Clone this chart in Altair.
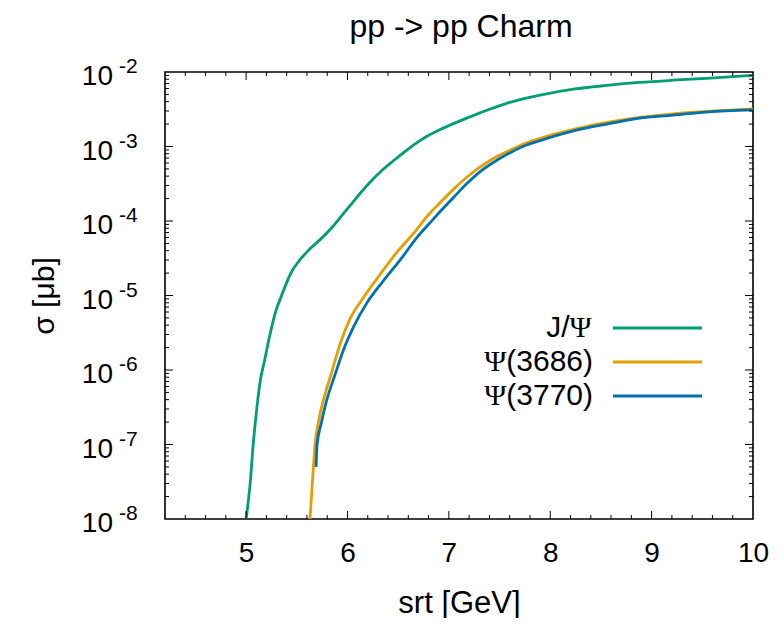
import altair as alt
import pandas as pd

# ---------------- data ----------------
series_names = ["J/Ψ", "Ψ(3686)", "Ψ(3770)"]
series_colors = ["#009e73", "#e69f00", "#0072b2"]

jpsi_srt = [5.00, 5.04, 5.07, 5.10, 5.14, 5.18, 5.22, 5.29, 5.35, 5.45, 5.53, 5.62,
            5.74, 5.84, 5.96, 6.06, 6.15, 6.25, 6.35, 6.45, 6.55, 6.65, 6.78, 6.91,
            7.11, 7.24, 7.40, 7.57, 7.90, 8.23, 8.56, 8.88, 9.21, 9.54, 10.0]
jpsi_sigma = [1.0e-8, 3.0e-8, 1.0e-7, 2.6e-7, 7.2e-7, 1.3e-6, 2.4e-6, 6.0e-6, 1.0e-5,
              2.1e-5, 3.0e-5, 4.1e-5, 5.8e-5, 8.0e-5, 1.26e-4, 1.84e-4, 2.57e-4, 3.63e-4,
              4.9e-4, 6.38e-4, 8.22e-4, 1.047e-3, 1.365e-3, 1.68e-3, 2.21e-3, 2.6e-3,
              3.16e-3, 3.8e-3, 4.9e-3, 5.89e-3, 6.61e-3, 7.24e-3, 7.76e-3, 8.22e-3, 9.0e-3]

psi3686_srt = [5.63, 5.66, 5.68, 5.71, 5.78, 5.84, 5.93, 6.02, 6.16, 6.32, 6.48, 6.65,
               6.81, 6.91, 7.05, 7.18, 7.30, 7.43, 7.57, 7.73, 7.90, 8.23, 8.56, 8.88,
               9.21, 9.54, 10.0]
psi3686_sigma = [1.0e-8, 4.1e-8, 1.0e-7, 1.9e-7, 4.8e-7, 8.9e-7, 2.3e-6, 4.7e-6, 9.5e-6,
                 1.9e-5, 3.7e-5, 6.8e-5, 1.26e-4, 1.74e-4, 2.7e-4, 3.9e-4, 5.2e-4,
                 6.8e-4, 8.5e-4, 1.07e-3, 1.29e-3, 1.7e-3, 2.1e-3, 2.45e-3, 2.75e-3,
                 2.95e-3, 3.2e-3]

psi3770_srt = [5.69, 5.70, 5.74, 5.79, 5.88, 5.96, 6.06, 6.19, 6.35, 6.52, 6.68, 6.85,
               6.91, 7.05, 7.18, 7.30, 7.43, 7.57, 7.73, 7.90, 8.23, 8.56, 8.88, 9.21,
               9.54, 10.0]
psi3770_sigma = [5.0e-8, 1.0e-7, 1.9e-7, 3.7e-7, 8.9e-7, 1.86e-6, 3.8e-6, 7.9e-6, 1.55e-5,
                 3.0e-5, 5.9e-5, 1.07e-4, 1.32e-4, 2.1e-4, 3.2e-4, 4.5e-4, 6.0e-4,
                 7.8e-4, 1.0e-3, 1.2e-3, 1.62e-3, 2.0e-3, 2.4e-3, 2.63e-3, 2.9e-3, 3.1e-3]

x_tick_labels = [5, 6, 7, 8, 9, 10]
y_decades = [-8, -7, -6, -5, -4, -3, -2]

title_text = "pp -> pp Charm"
x_title = "srt [GeV]"
y_title = "σ [μb]"

# ---------------- layout / style ----------------
W, H = 588, 447
FONT = "Liberation Sans"
SERIF = "Liberation Serif"
LW = 2.8
MAJ, MIN = 8, 4

xscale = alt.Scale(domain=[4.2, 10], nice=False, zero=False)
yscale = alt.Scale(type="log", domain=[1e-8, 1e-2], nice=False)
cscale = alt.Scale(domain=series_names, range=series_colors)

x_axis = alt.Axis(values=x_tick_labels, ticks=False, domain=False, grid=False,
                  labelFontSize=28, labelPadding=34, labelBaseline="middle",
                  labelFlush=False, labelColor="black",
                  title=x_title, titleFontSize=31, titleFontWeight="normal",
                  titleY=84, titleBaseline="middle", titleColor="black")
y_axis = alt.Axis(labels=False, ticks=False, domain=False, grid=False,
                  title=y_title, titleFontSize=30, titleFontWeight="normal",
                  titleX=-121, titleY=H / 2, titleAngle=-90,
                  titleAlign="center", titleBaseline="middle", titleColor="black")

rows = []
for name, xs, ys in [(series_names[0], jpsi_srt, jpsi_sigma),
                     (series_names[1], psi3686_srt, psi3686_sigma),
                     (series_names[2], psi3770_srt, psi3770_sigma)]:
    for a, b in zip(xs, ys):
        rows.append({"series": name, "srt": a, "sigma": b})
curve_df = pd.DataFrame(rows)

curves = alt.Chart(curve_df).mark_line(strokeWidth=LW, clip=True, interpolate="monotone").encode(
    x=alt.X("srt:Q", scale=xscale, axis=x_axis),
    y=alt.Y("sigma:Q", scale=yscale, axis=y_axis),
    color=alt.Color("series:N", scale=cscale, legend=None),
)

# tick positions
x_major = [float(v) for v in x_tick_labels[:-1]]
x_minor = [round(4.2 + 0.2 * i, 1) for i in range(1, 29)]
x_minor = [v for v in x_minor if abs(v - round(v)) > 1e-6]
y_major = [10.0 ** d for d in y_decades[1:-1]]
y_minor = [m * 10.0 ** d for d in y_decades[:-1] for m in range(2, 10)]


def xticks(vals, y0, y1):
    return alt.Chart(pd.DataFrame({"srt": vals})).mark_rule(color="black", strokeWidth=1).encode(
        x=alt.X("srt:Q", scale=xscale, axis=x_axis), y=alt.value(y0), y2=alt.value(y1))


def yticks(vals, x0, x1):
    return alt.Chart(pd.DataFrame({"sigma": vals})).mark_rule(color="black", strokeWidth=1).encode(
        y=alt.Y("sigma:Q", scale=yscale, axis=y_axis), x=alt.value(x0), x2=alt.value(x1))


tick_layers = [
    xticks(x_major, H, H - MAJ), xticks(x_major, 0, MAJ),
    xticks(x_minor, H, H - MIN), xticks(x_minor, 0, MIN),
    yticks(y_major, 0, MAJ), yticks(y_major, W, W - MAJ),
    yticks(y_minor, 0, MIN), yticks(y_minor, W, W - MIN),
]

# y-axis labels: 10 with superscript exponent
ylab_df = pd.DataFrame({"sigma": [10.0 ** d for d in y_decades],
                        "base": ["10"] * len(y_decades),
                        "exp": [str(d) for d in y_decades]})
ylab_base = alt.Chart(ylab_df).mark_text(font=FONT, fontSize=28, align="right",
                                         baseline="alphabetic", dy=13, color="black").encode(
    y=alt.Y("sigma:Q", scale=yscale, axis=y_axis), x=alt.value(-52), text="base:N")
ylab_exp = alt.Chart(ylab_df).mark_text(font=FONT, fontSize=21, align="left",
                                        baseline="alphabetic", dy=1, color="black").encode(
    y=alt.Y("sigma:Q", scale=yscale, axis=y_axis), x=alt.value(-46), text="exp:N")

# title
title = alt.Chart(pd.DataFrame({"t": [title_text]})).mark_text(
    font=FONT, fontSize=32, align="center", baseline="alphabetic", color="black").encode(
    x=alt.value(W / 2 + 2), y=alt.value(-35), text="t:N")

# key (gnuplot style: text on the left, sample line on the right)
LFS = 30
key_right = 428
row_y = [256, 290, 324]
sans_parts = ["J/", "(3686)", "(3770)"]
psi_w = 0.78 * LFS
paren_w = (0.333 * 2 + 0.556 * 4) * LFS
key_df = pd.DataFrame({
    "series": series_names,
    "ly": row_y,
    "sans": sans_parts,
    "psi": ["Ψ"] * 3,
    "sans_x": [key_right - psi_w, key_right, key_right],
    "psi_x": [key_right - psi_w, key_right - paren_w, key_right - paren_w],
})
key_lines = alt.Chart(key_df).mark_rule(strokeWidth=LW).encode(
    y=alt.Y("ly:Q", scale=None), x=alt.value(448), x2=alt.value(537),
    color=alt.Color("series:N", scale=cscale, legend=None))
key_sans = alt.Chart(key_df).mark_text(font=FONT, fontSize=LFS, align="right",
                                       baseline="middle", color="black").encode(
    y=alt.Y("ly:Q", scale=None), x=alt.X("sans_x:Q", scale=None), text="sans:N")
key_psi_j = alt.Chart(key_df.iloc[:1]).mark_text(font=SERIF, fontSize=LFS, align="left",
                                                 baseline="middle", color="black").encode(
    y=alt.Y("ly:Q", scale=None), x=alt.X("psi_x:Q", scale=None), text="psi:N")
key_psi_other = alt.Chart(key_df.iloc[1:]).mark_text(font=SERIF, fontSize=LFS, align="right",
                                                     baseline="middle", color="black").encode(
    y=alt.Y("ly:Q", scale=None), x=alt.X("psi_x:Q", scale=None), text="psi:N")

chart = alt.layer(curves, *tick_layers, ylab_base, ylab_exp, title,
                  key_lines, key_sans, key_psi_j, key_psi_other).properties(
    width=W, height=H,
    autosize=alt.AutoSizeParams(type="none"),
    padding={"left": 157, "top": 64, "right": 20, "bottom": 99},
).configure(font=FONT).configure_view(stroke="black", strokeWidth=1.6)

chart.save("out.html", embed_options={"renderer": "svg", "actions": False})
